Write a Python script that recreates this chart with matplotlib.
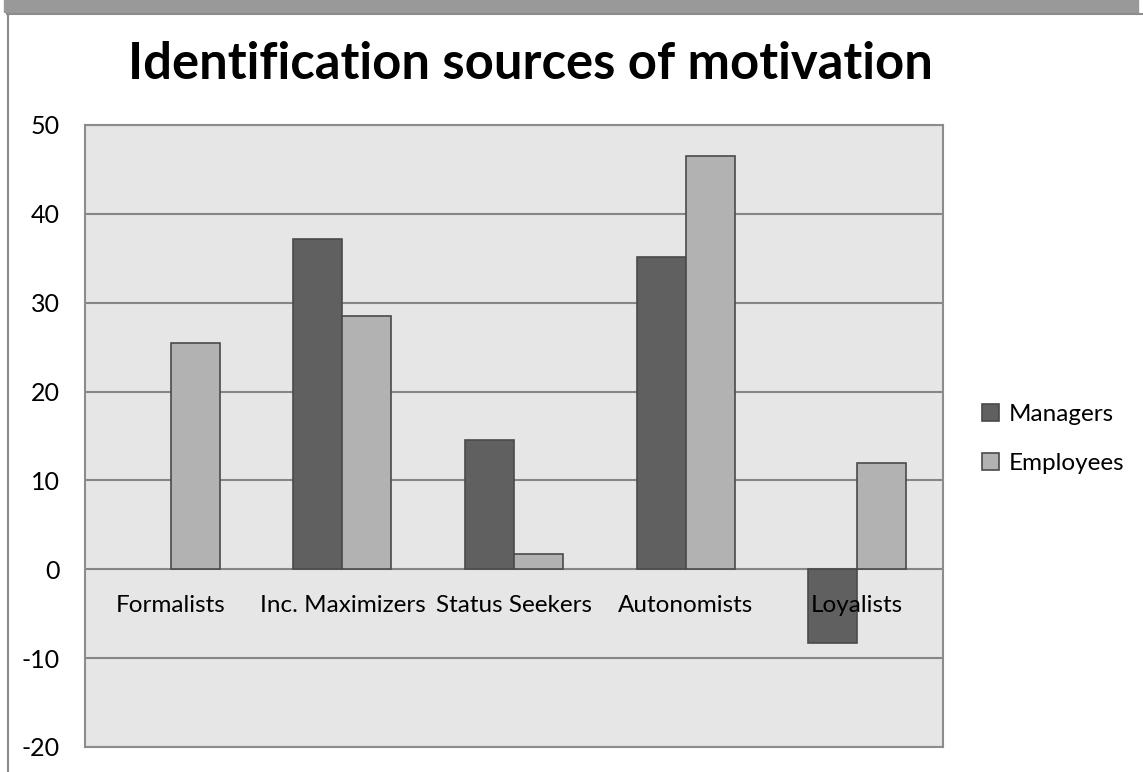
import matplotlib.pyplot as plt
from matplotlib.patches import Rectangle
import numpy as np

categories = ['Formalists', 'Inc. Maximizers', 'Status Seekers', 'Autonomists', 'Loyalists']
managers = [np.nan, 37.2, 14.5, 35.1, -8.3]  # no manager bar for Formalists
employees = [25.5, 28.5, 1.7, 46.5, 12.0]
series_names = ['Managers', 'Employees']
yticks = [-20, -10, 0, 10, 20, 30, 40, 50]

plt.rcParams['font.family'] = ['Lato', 'DejaVu Sans']
plt.rcParams['axes.unicode_minus'] = False

fig = plt.figure(figsize=(11.43, 7.72), dpi=100)

# frame bits from the cropped spreadsheet chart
fig.patches.append(Rectangle((4 / 1143, 1 - 12 / 772), 1134 / 1143, 12 / 772,
                             transform=fig.transFigure, color='#999999', zorder=0))
fig.add_artist(plt.Line2D([7 / 1143, 1], [1 - 13.5 / 772, 1 - 13.5 / 772],
                          transform=fig.transFigure, color='#8c8c8c', lw=1.5))
fig.add_artist(plt.Line2D([7.5 / 1143, 7.5 / 1143], [0, 1 - 13.5 / 772],
                          transform=fig.transFigure, color='#8c8c8c', lw=1.5))

ax = fig.add_axes([85 / 1143, 1 - 747 / 772, 858 / 1143, 622 / 772])
ax.set_facecolor('#e6e6e6')

x = np.arange(len(categories))
w = 0.286
ax.bar(x - w / 2, managers, w, color='#606060', edgecolor='#4a4a4a', lw=1.2,
       label=series_names[0], zorder=3)
ax.bar(x + w / 2, employees, w, color='#b2b2b2', edgecolor='#4a4a4a', lw=1.2,
       label=series_names[1], zorder=3)

ax.set_xlim(-0.5, len(categories) - 0.5)
ax.set_ylim(-20, 50)
ax.set_yticks(yticks)
ax.set_xticks([])
ax.tick_params(axis='y', length=0, pad=18, labelsize=18)
ax.yaxis.grid(True, color='#868686', lw=1.5, zorder=1)
ax.set_axisbelow(True)
for s in ax.spines.values():
    s.set_color('#8c8c8c')
    s.set_linewidth(1.5)

for i, c in enumerate(categories):
    ax.annotate(c, xy=(i, 0), xytext=(0, -31), textcoords='offset points',
                ha='center', va='baseline', fontsize=17.5, zorder=4)

fig.text(530 / 1143, 1 - 79 / 772, 'Identification sources of motivation',
         ha='center', va='baseline', fontsize=36.5, fontweight='bold')

ax.legend(loc='upper left', bbox_to_anchor=(982 / 1143, 1 - 404 / 772),
          bbox_transform=fig.transFigure, frameon=False, fontsize=17.5,
          handlelength=0.7, handleheight=0.7, handletextpad=0.4,
          labelspacing=1.15, borderaxespad=0, borderpad=0)

fig.savefig('out.png', dpi=100)
